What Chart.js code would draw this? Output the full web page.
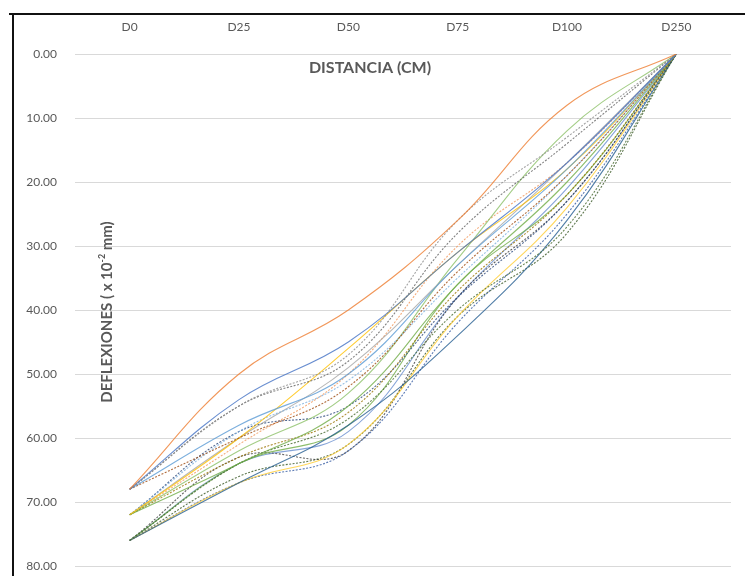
<!DOCTYPE html>
<html>
<head>
<meta charset="utf-8">
<script src="https://cdn.jsdelivr.net/npm/chart.js@4"></script>
<style>
body{margin:0;background:#fff}
#wrap{width:745px;height:576px;position:relative}
</style>
</head>
<body>
<div id="wrap"><canvas id="chart" width="745" height="576"></canvas></div>
<script>
// categories (distance) and tick labels
const categories = ["D0","D25","D50","D75","D100","D250"]
const yTicks = [0,10,20,30,40,50,60,70,80]

// deflection readings, one row per test point (x 10^-2 mm)
const s01 = [68,50,40,26,8,0]
const s02 = [68,55,47,26,13,0]
const s03 = [68,54,45,31,17,0]
const s04 = [68,55,48,28,14,0]
const s05 = [68,58,50,33,18,0]
const s06 = [68,60,52,34,19,0]
const s07 = [72,60,46,31,18,0]
const s08 = [72,64,55,36,20,0]
const s09 = [72,59,51,35,19,0]
const s10 = [72,60,49,33,17,0]
const s11 = [72,63,56,37,22,0]
const s12 = [72,62,53,32,12,0]
const s13 = [72,59,55,38,23,0]
const s14 = [72,61,50,30,17,0]
const s15 = [76,64,57,40,27,0]
const s16 = [76,67,58,44,26,0]
const s17 = [76,67,61,41,24,0]
const s18 = [76,67,62,42,25,0]
const s19 = [76,64,58,36,22,0]
const s20 = [76,63,62,38,23,0]
const s21 = [76,64,59,38,21,0]
const s22 = [76,66,61,41,28,0]

const series = [s01,s02,s03,s04,s05,s06,s07,s08,s09,s10,s11,s12,s13,s14,s15,s16,s17,s18,s19,s20,s21,s22]
const colors = ["#ED7D31","#8c8c8c","#4472C4","#636363","#5B9BD5","#9E480E",
  "#FFC000","#70AD47","#7CAFDD","#A5A5A5","#997300","#8CC168","#264478","#F1975A",
  "#43682B","#255E91","#FFCD33","#335AA1","#70AD47","#3b3b3b","#698ED0","#375623"]
const dotted = [false,true,false,true,false,true,false,false,true,false,true,false,true,true,
  true,false,false,true,false,true,false,true]

const font = "Lato, 'Open Sans', sans-serif"

const frameAndTitles = {
  id:"frameAndTitles",
  beforeDraw(chart){
    const c = chart.ctx
    c.save()
    c.fillStyle="#fff"
    c.fillRect(0,0,chart.width,chart.height)
    c.strokeStyle="#111"
    c.lineWidth=2
    c.beginPath()
    c.moveTo(9,14); c.lineTo(745,14)
    c.moveTo(13,14); c.lineTo(13,576)
    c.stroke()
    c.restore()
  },
  afterDraw(chart){
    const c = chart.ctx
    c.save()
    c.fillStyle="#595959"
    c.font="bold 16px "+font
    c.textAlign="center"
    c.textBaseline="middle"
    c.fillText("DISTANCIA (CM)",370,68)

    // rotated axis title with superscript
    c.translate(107,312)
    c.rotate(-Math.PI/2)
    const a="DEFLEXIONES ( x 10", sup="-2", b=" mm)"
    c.font="bold 15px "+font
    const wa=c.measureText(a).width, wb=c.measureText(b).width
    c.font="bold 9px "+font
    const ws=c.measureText(sup).width
    let x=-(wa+ws+wb)/2
    c.textAlign="left"
    c.font="bold 15px "+font
    c.fillText(a,x,0); x+=wa
    c.font="bold 9px "+font
    c.fillText(sup,x,-5); x+=ws
    c.font="bold 15px "+font
    c.fillText(b,x,0)
    c.restore()
  }
}

new Chart(document.getElementById("chart").getContext("2d"),{
  type:"line",
  data:{
    labels:categories,
    datasets:series.map((d,i)=>({
      data:d,
      borderColor:colors[i]+"cc",
      borderWidth:1.1,
      borderDash:dotted[i]?[2,1.5]:[],
      pointRadius:0,
      tension:0.4,
      fill:false
    }))
  },
  options:{
    responsive:false,
    animation:false,
    layout:{padding:{top:0,bottom:10,left:0,right:14}},
    plugins:{legend:{display:false},tooltip:{enabled:false}},
    scales:{
      x:{
        position:"top",
        offset:true,
        grid:{display:false,drawTicks:false},
        border:{display:false},
        ticks:{color:"#595959",font:{family:font,size:12},padding:20},
        afterFit(s){s.height=54;s.paddingLeft=0;s.paddingRight=0}
      },
      y:{
        reverse:true,
        min:0,max:80,
        afterBuildTicks(s){s.ticks=yTicks.map(v=>({value:v}))},
        grid:{color:"#d9d9d9",lineWidth:1,drawTicks:false},
        border:{display:false},
        ticks:{color:"#595959",font:{family:font,size:12},padding:18,
          callback:v=>Number(v).toFixed(2)},
        afterFit(s){s.width=75;s.paddingTop=0;s.paddingBottom=0}
      }
    }
  },
  plugins:[frameAndTitles]
})
</script>
</body>
</html>
